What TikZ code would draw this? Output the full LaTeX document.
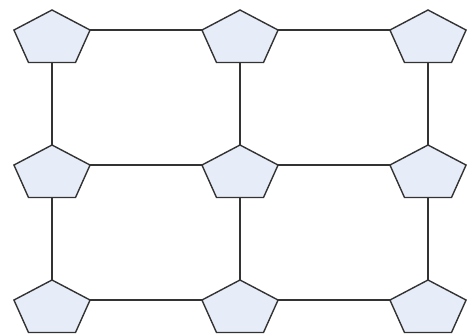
\documentclass[tikz,border=0pt]{standalone}
\usepackage{tikz}
\usetikzlibrary{shapes.geometric}
\definecolor{pentfill}{RGB}{230,236,248}

\begin{document}
\begin{tikzpicture}[
    x=1pt, y=1pt,
    every node/.style={
        draw=black!80,
        line width=1.4pt,
        fill=pentfill,
        regular polygon,
        regular polygon sides=5,
        minimum size=58pt,
        inner sep=0pt,
        outer sep=0pt,
        xscale=1.38,
        transform shape
    },
    link/.style={draw=black!80, line width=1.4pt}
]
\useasboundingbox (0,0) rectangle (467,335);

% Top row
\node (A1) at (52,296) {};
\node (A2) at (240,296) {};
\node (A3) at (428,296) {};

% Middle row
\node (B1) at (52,161) {};
\node (B2) at (240,161) {};
\node (B3) at (428,161) {};

% Bottom row
\node (C1) at (52,26) {};
\node (C2) at (240,26) {};
\node (C3) at (428,26) {};

% Horizontal links
\draw[link] (A1.corner 5)--(A2.corner 2);
\draw[link] (A2.corner 5)--(A3.corner 2);
\draw[link] (B1.corner 5)--(B2.corner 2);
\draw[link] (B2.corner 5)--(B3.corner 2);
\draw[link] (C1.corner 5)--(C2.corner 2);
\draw[link] (C2.corner 5)--(C3.corner 2);

% Vertical links
\draw[link] (A1)--(B1);
\draw[link] (B1)--(C1);
\draw[link] (A2)--(B2);
\draw[link] (B2)--(C2);
\draw[link] (A3)--(B3);
\draw[link] (B3)--(C3);

\end{tikzpicture}
\end{document}
